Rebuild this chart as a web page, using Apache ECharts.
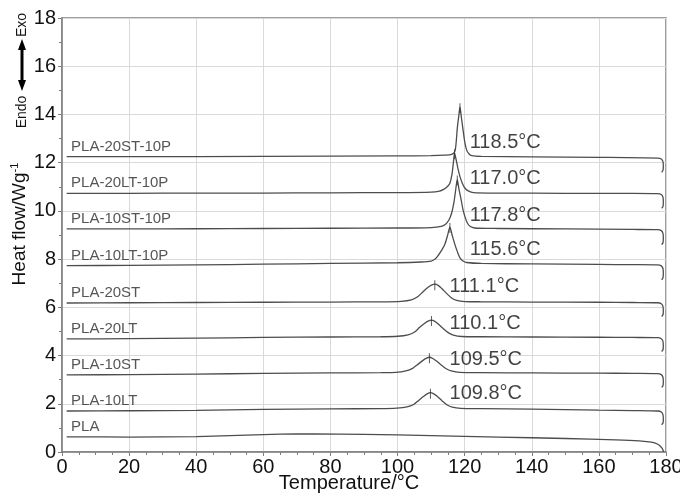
<!DOCTYPE html>
<html>
<head>
<meta charset="utf-8">
<script src="https://cdn.jsdelivr.net/npm/echarts@6/dist/echarts.min.js"></script>
<style>html,body{margin:0;padding:0;background:#fff}#c{width:680px;height:498px}</style>
</head>
<body>
<div id="c"></div>
<script>
// ---- data ----
const curveNames = ['PLA','PLA-10LT','PLA-10ST','PLA-20LT','PLA-20ST','PLA-10LT-10P','PLA-10ST-10P','PLA-20LT-10P','PLA-20ST-10P'];

const curvePLA = [[1.4,0.63],[5,0.63],[20,0.62],[40,0.64],[55,0.70],[65,0.74],[75,0.75],[90,0.73],[110,0.68],[130,0.62],[150,0.56],[165,0.50],[172,0.46],[175,0.42],[176.8,0.37],[178,0.28],[178.8,0.16],[179.2,0.05],[179.3,0.0]];

const curve10LT = [[1.4,1.70],[20,1.71],[40,1.73],[60,1.77],[80,1.79],[95,1.80],[99.8,1.82],[102.8,1.87],[104.8,1.97],[106.3,2.14],[107.8,2.31],[108.8,2.41],[109.8,2.46],[110.8,2.41],[111.8,2.31],[113.3,2.12],[114.8,1.95],[116.3,1.86],[118.8,1.81],[125,1.80],[140,1.78],[160,1.74],[170,1.72],[177.5,1.70],[178.6,1.66],[179.1,1.55],[179.2,1.35],[179.1,1.20],[178.7,1.13]];

const curve10ST = [[1.4,3.20],[20,3.21],[40,3.23],[60,3.26],[80,3.28],[95,3.29],[99.5,3.30],[102.5,3.36],[104.5,3.47],[106,3.63],[107.5,3.79],[108.5,3.88],[109.5,3.93],[110.5,3.88],[111.5,3.78],[113,3.61],[114.5,3.45],[116,3.36],[118.5,3.30],[125,3.29],[140,3.28],[160,3.27],[170,3.26],[177.5,3.25],[178.6,3.21],[179.1,3.10],[179.2,2.90],[179.1,2.75],[178.7,2.68]];

const curve20LT = [[1.4,4.69],[20,4.70],[40,4.72],[60,4.75],[80,4.77],[95,4.78],[100.1,4.80],[103.1,4.86],[105.1,4.98],[106.6,5.17],[108.1,5.34],[109.1,5.43],[110.1,5.47],[111.1,5.42],[112.1,5.31],[113.6,5.12],[115.1,4.95],[116.6,4.85],[119.1,4.79],[125,4.78],[140,4.77],[160,4.76],[170,4.75],[177.5,4.74],[178.6,4.70],[179.1,4.59],[179.2,4.39],[179.1,4.24],[178.7,4.17]];

const curve20ST = [[1.4,6.18],[20,6.19],[40,6.20],[60,6.21],[80,6.22],[95,6.23],[101.1,6.25],[104.1,6.31],[106.1,6.45],[107.6,6.65],[109.1,6.83],[110.1,6.92],[111.1,6.96],[112.1,6.91],[113.1,6.79],[114.6,6.58],[116.1,6.39],[117.6,6.29],[120.1,6.24],[125,6.23],[140,6.22],[160,6.21],[170,6.20],[177.5,6.19],[178.6,6.15],[179.1,6.04],[179.2,5.84],[179.1,5.69],[178.7,5.62]];

const curve10LT10P = [[1.4,7.73],[20,7.74],[40,7.76],[60,7.79],[80,7.82],[100,7.85],[107,7.88],[110,7.92],[111.2,8.00],[112.1,8.15],[113.2,8.38],[114.1,8.62],[114.9,8.98],[115.6,9.33],[116.3,8.98],[117.1,8.60],[117.9,8.28],[118.6,8.05],[119.5,7.92],[120.6,7.86],[125,7.82],[140,7.80],[160,7.78],[170,7.77],[177.5,7.76],[178.6,7.72],[179.1,7.61],[179.2,7.41],[179.1,7.22],[178.7,7.14]];

const curve10ST10P = [[1.4,9.25],[20,9.25],[40,9.26],[60,9.27],[80,9.28],[100,9.29],[110,9.31],[113,9.36],[114.3,9.45],[115.3,9.62],[116.1,9.90],[116.8,10.35],[117.3,10.85],[117.8,11.30],[118.3,10.90],[118.9,10.50],[119.5,10.05],[120.1,9.75],[120.8,9.50],[121.6,9.36],[123,9.29],[130,9.27],[150,9.25],[170,9.23],[177.5,9.22],[178.6,9.18],[179.1,9.07],[179.2,8.87],[179.1,8.68],[178.7,8.60]];

const curve20LT10P = [[1.4,10.73],[20,10.73],[40,10.74],[60,10.74],[80,10.75],[100,10.76],[110,10.78],[112.5,10.82],[113.6,10.88],[114.8,11.00],[115.6,11.15],[116.2,11.50],[116.6,11.95],[117.0,12.39],[117.5,12.10],[118.0,11.75],[118.6,11.42],[119.3,11.15],[120.1,10.94],[121.2,10.82],[122.6,10.76],[130,10.74],[150,10.73],[170,10.73],[177.5,10.72],[178.6,10.68],[179.1,10.57],[179.2,10.37],[179.1,10.18],[178.7,10.11]];

const curve20ST10P = [[1.4,12.25],[20,12.25],[60,12.26],[100,12.28],[110,12.29],[114,12.31],[116.1,12.34],[117.1,12.48],[117.5,12.90],[117.8,13.42],[118.3,14.00],[118.6,14.30],[119.0,13.90],[119.6,13.28],[120.1,12.80],[120.6,12.52],[121.3,12.36],[122.1,12.29],[125,12.26],[140,12.24],[160,12.22],[177.5,12.19],[178.6,12.15],[179.1,12.04],[179.2,11.84],[179.1,11.68],[178.7,11.60]];

const curves = [curvePLA, curve10LT, curve10ST, curve20LT, curve20ST, curve10LT10P, curve10ST10P, curve20LT10P, curve20ST10P];

// peaks (crystallization temperature, peak height)
const peakT = [109.8, 109.5, 110.1, 111.1, 115.6, 117.8, 117.0, 118.6];
const peakH = [2.46, 3.93, 5.47, 6.96, 9.33, 11.30, 12.39, 14.30];
const peakText = ['109.8°C','109.5°C','110.1°C','111.1°C','115.6°C','117.8°C','117.0°C','118.5°C'];
const peakLabelT = [115.5, 115.5, 115.5, 115.5, 121.5, 121.5, 121.5, 121.5];
const peakLabelV = [2.41, 3.82, 5.31, 6.86, 8.38, 9.83, 11.36, 12.82];

const nameLabelT = 2.7;

const xTicks = {min: 0, max: 180, interval: 20};
const yTicks = {min: 0, max: 18, interval: 2};

// ---- chart ----
const chart = echarts.init(document.getElementById('c'), null, {renderer: 'canvas'});
const FONT = 'Liberation Sans, Arial, sans-serif';
const lineColor = '#4d4d4d';

const series = [];
curves.forEach((c, i) => {
  series.push({
    type: 'line', name: curveNames[i], data: c, showSymbol: false, symbol: 'none',
    smooth: 0.25, lineStyle: {color: lineColor, width: 1.3}, silent: true, z: 3
  });
});
series.push({
  type: 'scatter', name: 'names', z: 5, silent: true,
  data: curves.map((c, i) => ({value: [nameLabelT, c[0][1]], name: curveNames[i]})),
  symbolSize: 0,
  label: {show: true, position: 'right', distance: 0, offset: [0, -10], formatter: p => p.name,
          fontFamily: FONT, fontSize: 15, color: '#2a2a2a'}
});
series.push({
  type: 'scatter', name: 'peakMarks', z: 6, silent: true,
  data: peakT.map((t, i) => [t, peakH[i]]),
  symbol: 'rect', symbolSize: [1, 10], symbolOffset: [0, 1],
  itemStyle: {color: '#333'}
});
series.push({
  type: 'scatter', name: 'peakLabels', z: 5, silent: true,
  data: peakT.map((t, i) => ({value: [peakLabelT[i], peakLabelV[i]], name: peakText[i]})),
  symbolSize: 0,
  label: {show: true, position: 'right', distance: 0, formatter: p => p.name,
          fontFamily: FONT, fontSize: 20, color: '#111'}
});

const axisColor = '#7f7f7f';
chart.setOption({
  animation: false,
  backgroundColor: '#fff',
  grid: {left: 62, right: 14, top: 18, bottom: 46, containLabel: false, outerBoundsMode: 'none',
         show: true, borderColor: axisColor, borderWidth: 1.5, backgroundColor: 'transparent'},
  xAxis: {
    type: 'value', min: xTicks.min, max: xTicks.max, interval: xTicks.interval,
    name: 'Temperature/°C', nameLocation: 'middle', nameGap: 21, nameMoveOverlap: false,
    nameTextStyle: {fontFamily: FONT, fontSize: 20, color: '#111', padding: [0, 30, 0, 0]},
    axisLine: {show: true, onZero: false, lineStyle: {color: axisColor, width: 1.5}},
    axisTick: {show: true, inside: false, length: 4, lineStyle: {color: axisColor}},
    minorTick: {show: true, splitNumber: 4, length: 3, lineStyle: {color: axisColor}},
    axisLabel: {fontFamily: FONT, fontSize: 20, color: '#111', margin: 5},
    splitLine: {show: true, lineStyle: {color: '#d9d9d9', width: 1}}
  },
  yAxis: {
    type: 'value', min: yTicks.min, max: yTicks.max, interval: yTicks.interval,
    name: '{a|Heat flow/Wg}{b|-1}', nameLocation: 'middle', nameGap: 32, nameMoveOverlap: false,
    nameTextStyle: {fontFamily: FONT, fontSize: 19, color: '#111', padding: [0, 0, 0, 22],
      rich: {a: {fontFamily: FONT, fontSize: 19, color: '#111'},
             b: {fontFamily: FONT, fontSize: 11, color: '#111', padding: [0, 0, 10, 0]}}},
    axisLine: {show: true, onZero: false, lineStyle: {color: axisColor, width: 1.5}},
    axisTick: {show: true, inside: false, length: 4, lineStyle: {color: axisColor}},
    minorTick: {show: true, splitNumber: 2, length: 3, lineStyle: {color: axisColor}},
    axisLabel: {fontFamily: FONT, fontSize: 20, color: '#111', margin: 6},
    splitLine: {show: true, lineStyle: {color: '#d9d9d9', width: 1}}
  },
  graphic: [
    {type: 'text', x: 22, y: 25, rotation: Math.PI / 2, z: 10,
     style: {text: 'Exo', fontFamily: FONT, fontSize: 14, fill: '#111', align: 'center', verticalAlign: 'middle'}},
    {type: 'text', x: 22, y: 112, rotation: Math.PI / 2, z: 10,
     style: {text: 'Endo', fontFamily: FONT, fontSize: 14, fill: '#111', align: 'center', verticalAlign: 'middle'}},
    {type: 'line', z: 10, shape: {x1: 22, y1: 47, x2: 22, y2: 83}, style: {stroke: '#000', lineWidth: 3}},
    {type: 'polygon', z: 10, shape: {points: [[22, 39], [18, 50], [26, 50]]}, style: {fill: '#000'}},
    {type: 'polygon', z: 10, shape: {points: [[22, 91], [18, 80], [26, 80]]}, style: {fill: '#000'}}
  ],
  series: series
});
</script>
</body>
</html>
